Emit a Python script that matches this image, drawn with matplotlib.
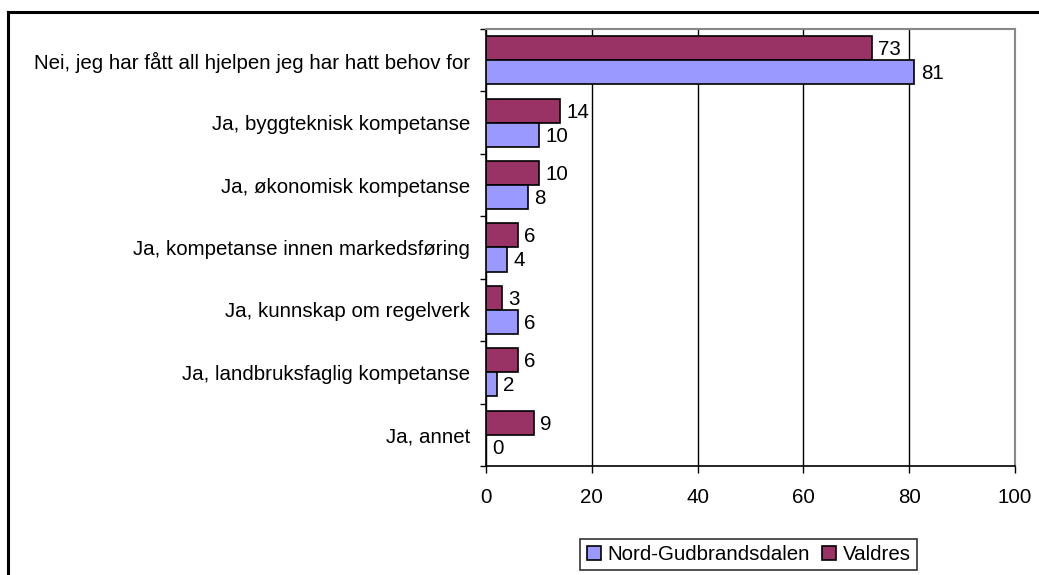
import matplotlib
matplotlib.use("Agg")
import matplotlib.pyplot as plt
from matplotlib.lines import Line2D
import numpy as np

categories = [
    "Nei, jeg har fått all hjelpen jeg har hatt behov for",
    "Ja, byggteknisk kompetanse",
    "Ja, økonomisk kompetanse",
    "Ja, kompetanse innen markedsføring",
    "Ja, kunnskap om regelverk",
    "Ja, landbruksfaglig kompetanse",
    "Ja, annet",
]
nord_gudbrandsdalen = [81, 10, 8, 4, 6, 2, 0]
valdres = [73, 14, 10, 6, 3, 6, 9]
series_names = ["Nord-Gudbrandsdalen", "Valdres"]
x_ticks = [0, 20, 40, 60, 80, 100]

plt.rcParams['font.family'] = ['Liberation Sans', 'DejaVu Sans']
FS = 14.8

fig = plt.figure(figsize=(10.39, 5.75), dpi=100)
ax = fig.add_axes([486/1039, 1-466/575, (1015-486)/1039, (466-29)/575])

y = np.arange(len(categories))
h = 0.385
c_ng = "#9999FF"
c_va = "#993366"
b_va = ax.barh(y - h/2, valdres, height=h, color=c_va, edgecolor="black", linewidth=1.2, label=series_names[1], zorder=3)
b_ng = ax.barh(y + h/2, nord_gudbrandsdalen, height=h, color=c_ng, edgecolor="black", linewidth=1.2, label=series_names[0], zorder=3)

for bars, vals in ((b_va, valdres), (b_ng, nord_gudbrandsdalen)):
    for b, v in zip(bars, vals):
        ax.annotate(str(v), (v, b.get_y() + b.get_height()/2), xytext=(4.5, -1),
                    textcoords="offset points", ha="left", va="center", fontsize=FS, zorder=4)

ax.set_xlim(0, 100)
ax.set_ylim(len(categories) - 0.5, -0.5)
ax.set_xticks(x_ticks)
ax.set_xticklabels([str(t) for t in x_ticks], fontsize=FS)
ax.set_yticks(y)
ax.set_yticklabels(categories, fontsize=FS)
ax.tick_params(axis="y", which="major", length=0, pad=11.5)
ax.set_yticks(np.arange(len(categories) + 1) - 0.5, minor=True)
ax.tick_params(axis="y", which="minor", length=4, width=1, direction="out")
ax.tick_params(axis="x", which="major", length=5, width=1, direction="out", pad=10.5)

ax.grid(axis="x", color="black", linewidth=1, zorder=0)
for s in ("left", "bottom"):
    ax.spines[s].set_color("black")
    ax.spines[s].set_linewidth(1.2)
for s in ("top", "right"):
    ax.spines[s].set_color("#888888")
    ax.spines[s].set_linewidth(1.5)
ax.set_axisbelow(True)

handles = [b_ng, b_va]
leg = fig.legend(handles, series_names, loc="center", bbox_to_anchor=(748.5/1039, 1-554.5/575),
                 ncol=2, fontsize=FS, frameon=True, fancybox=False, edgecolor="black",
                 handlelength=0.7, handleheight=0.7, handletextpad=0.3, columnspacing=0.6,
                 borderpad=0.3, borderaxespad=0)
leg.get_frame().set_linewidth(1.2)

# outer figure border (top and left)
fig.add_artist(Line2D([8/1039, 8/1039], [0, 1-12/575], transform=fig.transFigure, color="black", linewidth=2.2))
fig.add_artist(Line2D([8/1039, 1], [1-12/575, 1-12/575], transform=fig.transFigure, color="black", linewidth=2.2))

fig.savefig("out.png", dpi=100)
